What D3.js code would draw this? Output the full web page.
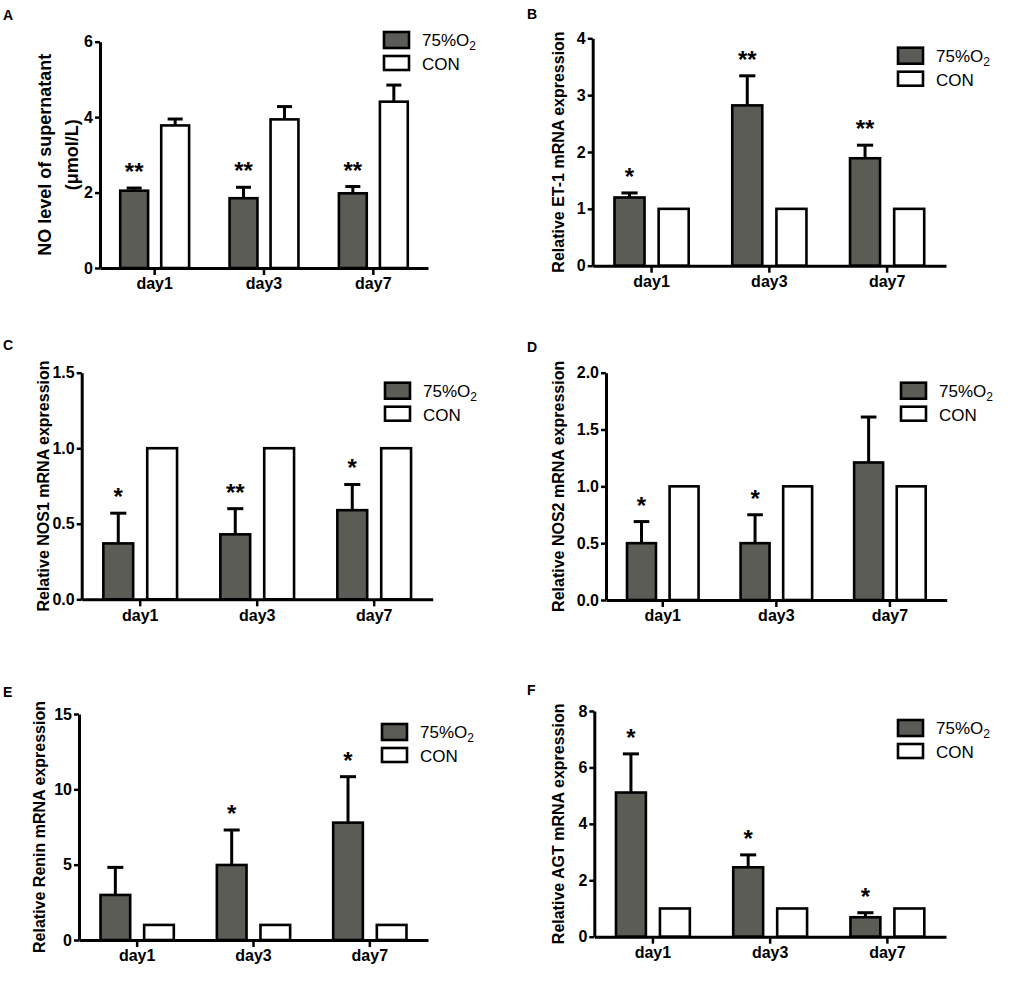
<!DOCTYPE html>
<html>
<head>
<meta charset="utf-8">
<script src="https://cdn.jsdelivr.net/npm/d3@7"></script>
<style>
  body { margin: 0; background: #fff; }
  svg { display: block; font-family: Arial, "Liberation Sans", sans-serif; }
</style>
</head>
<body>
<div id="chart"></div>
<script>
// categories and series
const days = ["day1", "day3", "day7"];
const groups = ["o2", "con"];

// A - NO level of supernatant
const noO2 = [2.05, 1.85, 1.98];
const noO2Err = [0.07, 0.29, 0.18];
const noCon = [3.78, 3.94, 4.41];
const noConErr = [0.17, 0.34, 0.44];
const noStars = ["**", "**", "**"];
const noTicks = [0, 2, 4, 6];

// B - ET-1
const et1O2 = [1.20, 2.82, 1.89];
const et1O2Err = [0.08, 0.52, 0.23];
const et1Con = [1, 1, 1];
const et1ConErr = [0, 0, 0];
const et1Stars = ["*", "**", "**"];
const et1Ticks = [0, 1, 2, 3, 4];

// C - NOS1
const nos1O2 = [0.37, 0.43, 0.59];
const nos1O2Err = [0.20, 0.17, 0.17];
const nos1Con = [1, 1, 1];
const nos1ConErr = [0, 0, 0];
const nos1Stars = ["*", "**", "*"];
const nos1Ticks = [0, 0.5, 1.0, 1.5];

// D - NOS2
const nos2O2 = [0.50, 0.50, 1.21];
const nos2O2Err = [0.19, 0.25, 0.40];
const nos2Con = [1, 1, 1];
const nos2ConErr = [0, 0, 0];
const nos2Stars = ["*", "*", ""];
const nos2Ticks = [0, 0.5, 1.0, 1.5, 2.0];

// E - Renin
const reninO2 = [2.99, 4.98, 7.79];
const reninO2Err = [1.83, 2.32, 3.05];
const reninCon = [1, 1, 1];
const reninConErr = [0, 0, 0];
const reninStars = ["", "*", "*"];
const reninTicks = [0, 5, 10, 15];

// F - AGT
const agtO2 = [5.11, 2.46, 0.69];
const agtO2Err = [1.37, 0.44, 0.16];
const agtCon = [1, 1, 1];
const agtConErr = [0, 0, 0];
const agtStars = ["*", "*", "*"];
const agtTicks = [0, 2, 4, 6, 8];

const panels = [
  { tag: "A", o2: noO2, o2Err: noO2Err, con: noCon, conErr: noConErr, stars: noStars, ticks: noTicks, fmt: d3.format("d"),
    label: ["NO level of supernatant", "(\u03bcmol/L)"], labelSize: 18,
    box: { left: 100, right: 428, top: 41.7, bottom: 268 }, labelX: [45, 72],
    tagPos: [3, 20], legend: [383, 31] },
  { tag: "B", o2: et1O2, o2Err: et1O2Err, con: et1Con, conErr: et1ConErr, stars: et1Stars, ticks: et1Ticks, fmt: d3.format("d"),
    label: ["Relative  ET-1 mRNA expression"], labelSize: 16,
    box: { left: 592.7, right: 946, top: 38.3, bottom: 265.7 }, labelX: [558],
    tagPos: [527, 19], legend: [897, 46.7] },
  { tag: "C", o2: nos1O2, o2Err: nos1O2Err, con: nos1Con, conErr: nos1ConErr, stars: nos1Stars, ticks: nos1Ticks, fmt: d3.format(".1f"),
    label: ["Relative  NOS1 mRNA expression"], labelSize: 16,
    box: { left: 81.7, right: 432.7, top: 372.7, bottom: 599.3 }, labelX: [43],
    tagPos: [3, 350], legend: [384, 381.7] },
  { tag: "D", o2: nos2O2, o2Err: nos2O2Err, con: nos2Con, conErr: nos2ConErr, stars: nos2Stars, ticks: nos2Ticks, fmt: d3.format(".1f"),
    label: ["Relative  NOS2 mRNA expression"], labelSize: 16,
    box: { left: 606, right: 946.7, top: 372.7, bottom: 600 }, labelX: [558],
    tagPos: [527, 352], legend: [900, 381.7] },
  { tag: "E", o2: reninO2, o2Err: reninO2Err, con: reninCon, conErr: reninConErr, stars: reninStars, ticks: reninTicks, fmt: d3.format("d"),
    label: ["Relative  Renin mRNA expression"], labelSize: 16,
    box: { left: 79, right: 428, top: 714, bottom: 940 }, labelX: [39],
    tagPos: [3, 697], legend: [381, 723] },
  { tag: "F", o2: agtO2, o2Err: agtO2Err, con: agtCon, conErr: agtConErr, stars: agtStars, ticks: agtTicks, fmt: d3.format("d"),
    label: ["Relative  AGT mRNA expression"], labelSize: 16,
    box: { left: 594.3, right: 946, top: 711, bottom: 936.7 }, labelX: [558],
    tagPos: [527, 695], legend: [897, 719] }
];

const barFill = "#5b5c56";
const font = "Arial, 'Liberation Sans', sans-serif";

const svg = d3.select("#chart").append("svg")
  .attr("width", 1021)
  .attr("height", 989);

svg.append("rect").attr("width", 1021).attr("height", 989).attr("fill", "#fff");

panels.forEach(p => {
  const g = svg.append("g");
  const b = p.box;

  const y = d3.scaleLinear()
    .domain([0, d3.max(p.ticks)])
    .range([b.bottom, b.top]);

  const x0 = d3.scaleBand()
    .domain(days)
    .range([b.left, b.right]);

  const x1 = d3.scaleBand()
    .domain(groups)
    .range([x0.step() * 0.185, x0.step() * 0.815])
    .paddingInner(0.32);

  const rows = days.map((d, i) => ({
    day: d,
    star: p.stars[i],
    bars: [
      { key: "o2", v: p.o2[i], e: p.o2Err[i] },
      { key: "con", v: p.con[i], e: p.conErr[i] }
    ]
  }));

  const grp = g.selectAll("g.day")
    .data(rows)
    .enter()
    .append("g")
    .attr("class", "day")
    .attr("transform", d => `translate(${x0(d.day)},0)`);

  // error bars (drawn first so the bar covers the lower part)
  grp.selectAll("g.err")
    .data(d => d.bars.filter(c => c.e > 0))
    .enter()
    .append("g")
    .attr("class", "err")
    .each(function(c) {
      const cx = x1(c.key) + x1.bandwidth() / 2;
      const cap = x1.bandwidth() * 0.27;
      const el = d3.select(this);
      el.append("line")
        .attr("x1", cx).attr("x2", cx)
        .attr("y1", y(c.v)).attr("y2", y(c.v + c.e))
        .attr("stroke", "#000").attr("stroke-width", 3);
      el.append("line")
        .attr("x1", cx - cap).attr("x2", cx + cap)
        .attr("y1", y(c.v + c.e)).attr("y2", y(c.v + c.e))
        .attr("stroke", "#000").attr("stroke-width", 3);
    });

  grp.selectAll("rect")
    .data(d => d.bars)
    .enter()
    .append("rect")
    .attr("x", c => x1(c.key))
    .attr("width", x1.bandwidth())
    .attr("y", c => y(c.v))
    .attr("height", c => y(0) - y(c.v))
    .attr("fill", c => c.key === "o2" ? barFill : "#fff")
    .attr("stroke", "#000")
    .attr("stroke-width", 2.6);

  // significance stars
  grp.append("text")
    .attr("x", x1("o2") + x1.bandwidth() / 2)
    .attr("y", d => y(d.bars[0].v + d.bars[0].e) - 8)
    .attr("text-anchor", "middle")
    .attr("font-size", 24)
    .attr("font-weight", "bold")
    .text(d => d.star);

  // axes
  const yAxis = g.append("g")
    .attr("transform", `translate(${b.left},0)`)
    .call(d3.axisLeft(y).tickValues(p.ticks).tickFormat(p.fmt).tickSize(5).tickSizeOuter(0));
  yAxis.select(".domain").attr("stroke-width", 3);
  yAxis.selectAll(".tick line").attr("stroke-width", 2.5);
  yAxis.selectAll(".tick text")
    .attr("font-size", 16).attr("font-weight", "bold")
    .attr("font-family", font)
    .attr("x", -7);

  const xAxis = g.append("g")
    .attr("transform", `translate(0,${b.bottom})`)
    .call(d3.axisBottom(x0).tickSize(7).tickSizeOuter(0));
  xAxis.select(".domain").attr("stroke-width", 3);
  xAxis.selectAll(".tick line").attr("stroke-width", 2.5);
  xAxis.selectAll(".tick text")
    .attr("font-size", 16).attr("font-weight", "bold")
    .attr("font-family", font)
    .attr("y", 10);

  // y label
  const cy = (b.top + b.bottom) / 2;
  p.label.forEach((t, i) => {
    g.append("text")
      .attr("transform", `translate(${p.labelX[i]},${cy}) rotate(-90)`)
      .attr("text-anchor", "middle")
      .attr("dominant-baseline", "central")
      .attr("font-size", p.labelSize)
      .attr("font-weight", "bold")
      .text(t);
  });

  // panel tag
  g.append("text")
    .attr("x", p.tagPos[0]).attr("y", p.tagPos[1])
    .attr("font-size", 14).attr("font-weight", "bold")
    .text(p.tag);

  // legend
  const lg = g.append("g").attr("transform", `translate(${p.legend[0]},${p.legend[1]})`);
  [{ fill: barFill, name: "75%O", sub: "2" }, { fill: "#fff", name: "CON", sub: "" }].forEach((it, i) => {
    const row = lg.append("g").attr("transform", `translate(0,${i * 24})`);
    row.append("rect")
      .attr("x", 1).attr("y", 1)
      .attr("width", 25).attr("height", i === 0 ? 16 : 14)
      .attr("fill", it.fill)
      .attr("stroke", "#000").attr("stroke-width", 2.6);
    const tx = row.append("text")
      .attr("x", 39).attr("y", 15)
      .attr("font-size", 17)
      .text(it.name);
    if (it.sub) {
      tx.append("tspan").attr("font-size", 12).attr("dy", 4).text(it.sub);
    }
  });
});
</script>
</body>
</html>
